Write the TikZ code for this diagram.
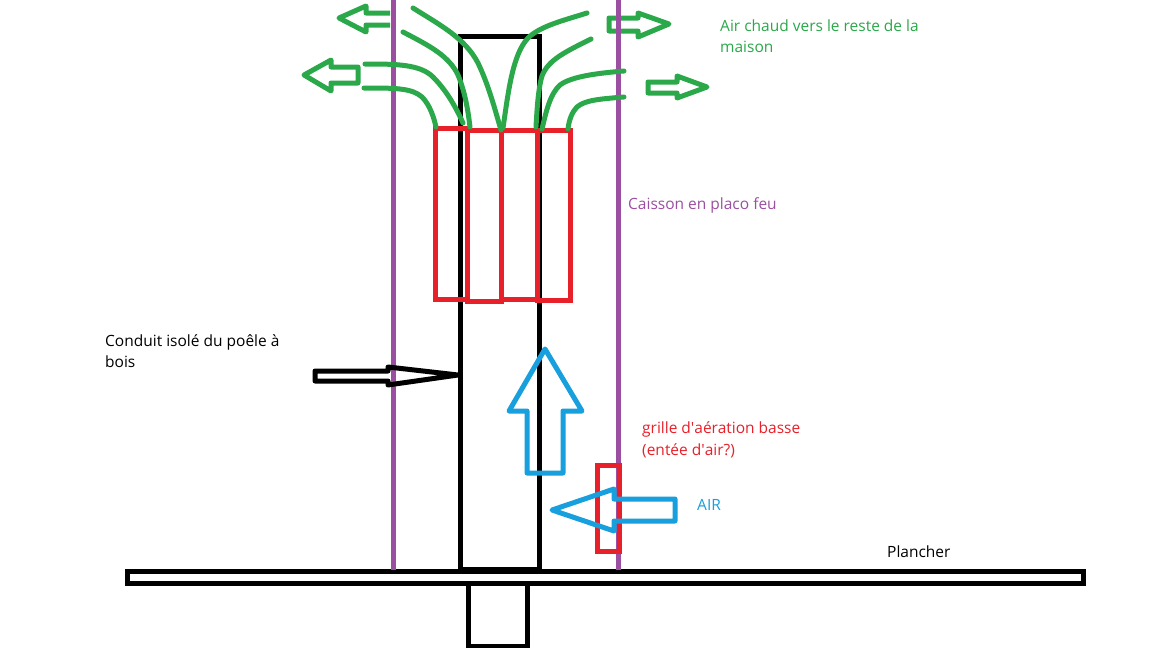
\documentclass[tikz,border=0pt]{standalone}
\usepackage{fontspec}
\setmainfont{Open Sans}
\definecolor{pgreen}{HTML}{2BA84A}
\definecolor{ppurple}{HTML}{9B4FA0}
\definecolor{pred}{HTML}{E8202A}
\definecolor{pblue}{HTML}{189FDD}
\tikzset{
  black line/.style={draw=black,line width=5pt},
  purple line/.style={draw=ppurple,line width=5pt},
  red box/.style={draw=pred,line width=5pt},
  green arrow/.style={draw=pgreen,line width=5pt,line join=round},
  green curve/.style={draw=pgreen,line width=5pt,line cap=round},
  black arrow/.style={draw=black,line width=5pt,line join=round},
  blue arrow/.style={draw=pblue,line width=5pt,line join=round},
  label/.style={anchor=north west,inner sep=0pt,font=\fontsize{15.5}{21.5}\selectfont,align=left},
}
\begin{document}
\begin{tikzpicture}[x=1pt,y=-1pt]
\useasboundingbox (0,0) rectangle (1152,648);
\fill[white] (0,0) rectangle (1152,648);
% black structure
\draw[black line] (460,569) -- (460,36) -- (539,36) -- (539,569);
\draw[black line] (460,569) -- (539,569);
\draw[black line] (127,571) rectangle (1083,583);
\draw[black line] (468,583) -- (468,646) -- (527,646) -- (527,583);
% green arrows
\draw[green arrow] (390,13) -- (366,13) -- (366,6) -- (339,18) -- (366,32) -- (366,25) -- (390,25);
\draw[green arrow] (304,75) -- (331,60) -- (331,67) -- (358,67) -- (358,83) -- (331,83) -- (331,91) -- cycle;
\draw[green arrow] (609,18) -- (638,18) -- (638,13) -- (669,24) -- (638,37) -- (638,31) -- (609,31) -- cycle;
\draw[green arrow] (648,82) -- (677,82) -- (677,76) -- (707,87) -- (677,98) -- (677,93) -- (648,93) -- cycle;
% purple walls
\draw[purple line] (393,0) -- (393,570);
\draw[purple line] (618,0) -- (618,570);
% red boxes
\draw[red box] (435,128) rectangle (467,299);
\draw[red box] (467,130) rectangle (501,301);
\draw[red box] (501,130) rectangle (537,299);
\draw[red box] (537,130) rectangle (570,300);
\draw[red box] (597,465) rectangle (619,551);
% green flow curves
\draw[green curve] (413,8) .. controls (440,25) and (465,38) .. (478,63) .. controls (489,86) and (495,110) .. (501,130);
\draw[green curve] (403,32) .. controls (430,46) and (449,56) .. (458,75) .. controls (465,92) and (468,110) .. (470,127);
\draw[green curve] (365,64) .. controls (395,64) and (420,64) .. (433,77) .. controls (448,92) and (457,110) .. (463,123);
\draw[green curve] (364,88) .. controls (395,88) and (412,88) .. (422,97) .. controls (430,105) and (434,118) .. (436,127);
\draw[green curve] (587,13) .. controls (565,20) and (540,26) .. (528,38) .. controls (512,55) and (508,95) .. (503,128);
\draw[green curve] (591,39) .. controls (565,52) and (548,60) .. (542,76) .. controls (538,90) and (537,110) .. (536,127);
\draw[green curve] (624,71) .. controls (600,73) and (572,76) .. (560,85) .. controls (550,94) and (546,112) .. (542,129);
\draw[green curve] (624,97) .. controls (600,99) and (585,100) .. (577,107) .. controls (572,112) and (569,120) .. (568,129);
% black arrow
\draw[black arrow] (315,371) -- (388,371) -- (388,367) -- (458,375) -- (388,385) -- (388,381) -- (315,381) -- cycle;
% blue arrows
\draw[blue arrow] (545,349) -- (582,411) -- (563,411) -- (563,473) -- (527,473) -- (527,411) -- (509,411) -- cycle;
\draw[blue arrow] (552,510) -- (614,489) -- (614,499) -- (675,499) -- (675,521) -- (614,521) -- (614,531) -- cycle;
% labels
\node[label,text=pgreen] (hot) at (720,19.5) {Air chaud vers le reste de la\\maison};
\node[label,text=ppurple] (box) at (628,197) {Caisson en placo feu};
\node[label,text=black] (flue) at (105,334) {Conduit isolé du poêle à\\bois};
\node[label,text=pred] (grid) at (642,421.5) {grille d\textquotesingle aération basse\\(entée d\textquotesingle air?)};
\node[label,text=pblue] (air) at (697,499) {AIR};
\node[label,text=black] (floor) at (887,545.5) {Plancher};
\end{tikzpicture}
\end{document}
